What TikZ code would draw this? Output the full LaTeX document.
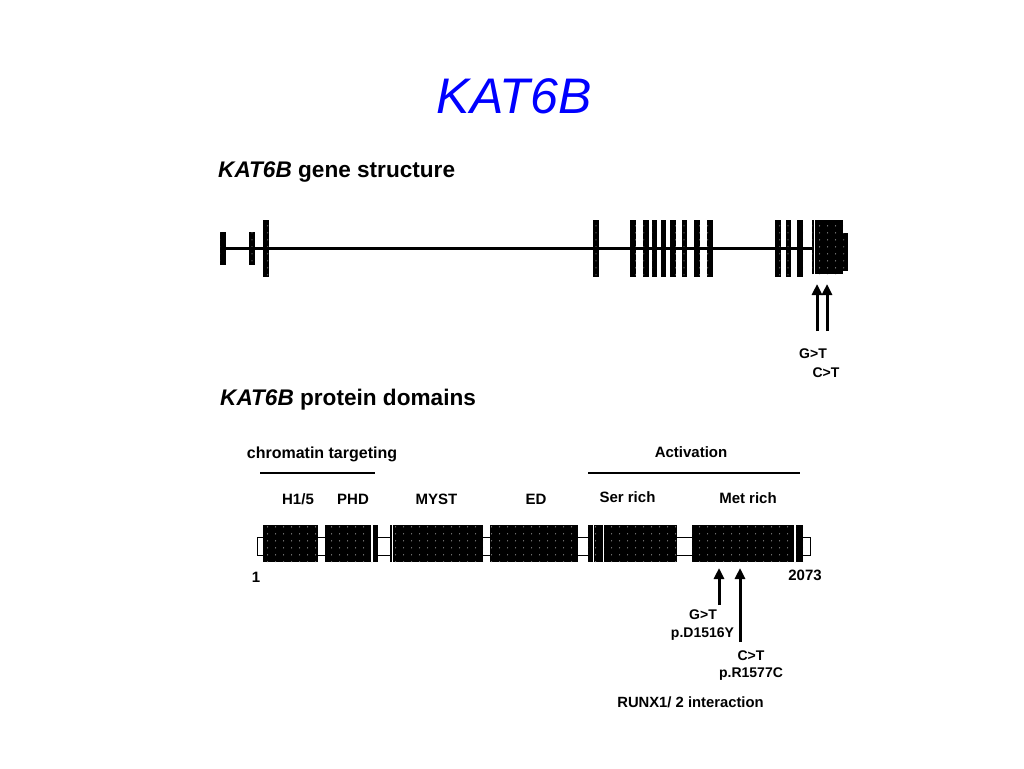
\documentclass[tikz,border=0pt]{standalone}
\usepackage{fontspec}
\setmainfont{Liberation Sans}
\usetikzlibrary{arrows.meta,patterns.meta}

\tikzdeclarepattern{
  name=blockdots,
  type=uncolored,
  bottom left={(0pt,0pt)},
  top right={(8pt,7pt)},
  tile size={(8pt,7pt)},
  code={\fill (4pt,3.5pt) circle [radius=0.6pt];}
}

\tikzset{
  block/.style={rectangle, inner sep=0pt, outer sep=0pt, draw=none, fill=black,
    postaction={pattern=blockdots, pattern color=white!75!black}},
  intron/.style={line width=3pt},
  stripe/.style={white, line width=1.3pt},
  mutarrow/.style={line width=3pt, -{Triangle[length=11pt,width=10pt]}},
  lbl/.style={inner sep=0pt, anchor=base, font=\bfseries\fontsize{14}{16}\selectfont},
  dlbl/.style={lbl, font=\bfseries\fontsize{15}{17}\selectfont},
  head/.style={inner sep=0pt, anchor=base west, font=\bfseries\fontsize{22.6}{26}\selectfont}
}

\begin{document}
\begin{tikzpicture}[x=1pt,y=-1pt]
\useasboundingbox (0,0) rectangle (1024,768);
\node[inner sep=0pt, anchor=base, text=blue, font=\itshape\fontsize{50}{56}\selectfont] (title) at (514,113) {KAT6B};
\node[head] (genehead) at (218,177) {\textit{KAT6B} gene structure};
\node[head] (prothead) at (220,405) {\textit{KAT6B} protein domains};
\foreach \n/\xc/\w/\h in {1/223/6/33, 2/252/6/33, 3/266/6/57, 4/596/6/57, 5/633/6/57,
    6/646/5.5/57, 7/654.5/5.5/57, 8/663.5/5.5/57, 9/673/6/57, 10/684.5/5.5/57,
    11/697/6/57, 12/710/6/57, 13/778/6/57, 14/788.5/5.5/57, 15/800/6/57}
  \node[block, minimum width=\w pt, minimum height=\h pt] (ex\n) at (\xc,248.5) {};
\node[block, minimum width=1.5pt, minimum height=54pt] (thin) at (813,247) {};
\node[block, minimum width=28pt, minimum height=54pt] (big) at (829,247) {};
\node[block, minimum width=5pt, minimum height=38pt] (ext) at (845.5,252) {};
\draw[intron] (ex1.center) -- (ex1.center -| thin.west);
\coordinate (mutG) at (817,331);
\coordinate (mutC) at (827,331);
\draw[mutarrow, shorten >=10pt] (mutG) -- (mutG |- big.south);
\draw[mutarrow, shorten >=10pt] (mutC) -- (mutC |- big.south);
\node[lbl] (geneGT) at (813,358) {G>T};
\node[lbl] (geneCT) at (826,377) {C>T};
\node[dlbl, font=\bfseries\fontsize{16}{18}\selectfont] (chromlbl) at (322,458) {chromatin targeting};
\draw[line width=2pt] (260,473) -- (375,473);
\node[dlbl] (actlbl) at (691,457) {Activation};
\draw[line width=2pt] (588,473) -- (800,473);
\node[dlbl] (h15lbl) at (298,504) {H1/5};
\node[dlbl] (phdlbl) at (353,504) {PHD};
\node[dlbl] (mystlbl) at (436.5,504) {MYST};
\node[dlbl] (edlbl) at (536,504) {ED};
\node[dlbl] (serlbl) at (627.5,502) {Ser rich};
\node[dlbl] (metlbl) at (748,503) {Met rich};
\node[rectangle, draw, line width=1pt, inner sep=0pt, minimum width=553pt, minimum height=18pt] (protbar) at (533.5,546) {};
\foreach \n/\xc/\w in {H/290.5/55, PHD/351.5/53, MYST/436.5/93, ED/534/88, Ser/632.5/89, Met/747.5/111}
  \node[block, minimum width=\w pt, minimum height=37pt] (d\n) at (\xc,543.5) {};
\foreach \xs in {372, 392.5, 593.5, 603.5, 795}
  \draw[stripe] (\xs,525) -- (\xs,562);
\node[dlbl] (startlbl) at (256,582) {1};
\node[dlbl] (endlbl) at (805,580) {2073};
\coordinate (mutD) at (719,605);
\coordinate (mutR) at (740,642);
\draw[mutarrow, shorten >=6pt] (mutD) -- (mutD |- dMet.south);
\draw[mutarrow, shorten >=6pt] (mutR) -- (mutR |- dMet.south);
\node[lbl] (protGT) at (703,619) {G>T};
\node[lbl] (protD) at (702.5,637) {p.D1516Y};
\node[lbl] (protCT) at (751,660) {C>T};
\node[lbl] (protR) at (751,677) {p.R1577C};
\node[lbl, font=\bfseries\fontsize{14.8}{17}\selectfont] (runxlbl) at (690.5,707) {RUNX1/ 2 interaction};
\end{tikzpicture}
\end{document}
